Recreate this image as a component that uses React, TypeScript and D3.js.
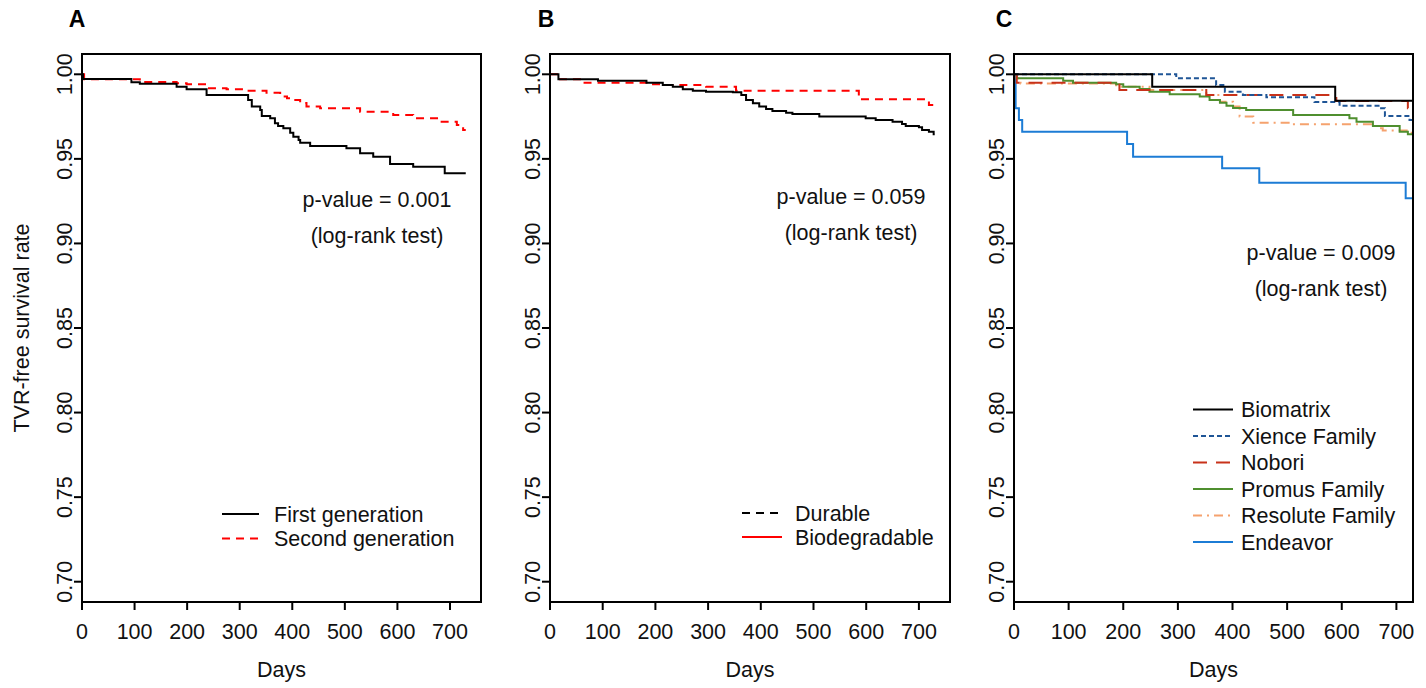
import React from "react";
import * as d3 from "d3";

// ---------- DATA ----------
const xTicks = [0, 100, 200, 300, 400, 500, 600, 700];
const yTicks = [0.7, 0.75, 0.8, 0.85, 0.9, 0.95, 1.0];

// Panel A
const firstGenTime = [0, 2, 94, 110, 180, 199, 237, 316, 323, 339, 342, 358, 367, 373, 383, 396, 402, 412, 415, 434, 503, 529, 554, 586, 630, 690, 730];
const firstGenSurv = [1.0, 0.9972, 0.9953, 0.9944, 0.9927, 0.9911, 0.9878, 0.9848, 0.9809, 0.9789, 0.9754, 0.974, 0.971, 0.9694, 0.9681, 0.9655, 0.9631, 0.9612, 0.9596, 0.9576, 0.9563, 0.9533, 0.9513, 0.947, 0.9454, 0.9415, 0.9415];
const secondGenTime = [0, 4, 110, 180, 199, 237, 275, 313, 351, 377, 390, 402, 415, 427, 453, 529, 592, 630, 681, 713, 725, 730];
const secondGenSurv = [1.0, 0.997, 0.9954, 0.9947, 0.9941, 0.9917, 0.9911, 0.9903, 0.9891, 0.9868, 0.9858, 0.9848, 0.983, 0.9809, 0.9799, 0.9779, 0.9759, 0.974, 0.972, 0.97, 0.9671, 0.9671];

// Panel B
const bBlackTime = [0, 16, 91, 183, 214, 233, 252, 271, 296, 347, 363, 372, 385, 397, 410, 422, 448, 460, 511, 599, 618, 650, 668, 675, 700, 706, 719, 728, 730];
const bBlackSurv = [1.0, 0.997, 0.9962, 0.995, 0.9937, 0.9927, 0.9911, 0.9903, 0.9897, 0.9894, 0.9878, 0.9848, 0.9829, 0.9809, 0.9795, 0.9783, 0.9773, 0.9765, 0.975, 0.974, 0.973, 0.972, 0.9706, 0.9694, 0.9687, 0.9671, 0.9661, 0.9645, 0.9645];
const bRedTime = [0, 16, 63, 183, 214, 296, 353, 586, 719, 730];
const bRedSurv = [1.0, 0.997, 0.995, 0.9941, 0.9937, 0.9927, 0.9903, 0.9852, 0.9818, 0.9818];

// Panel C
const biomatrixTime = [0, 253, 588, 730];
const biomatrixSurv = [1.0, 0.9927, 0.9844, 0.9844];
const xienceTime = [0, 297, 370, 386, 419, 462, 550, 596, 672, 679, 724, 730];
const xienceSurv = [1.0, 0.9976, 0.9937, 0.9897, 0.9878, 0.9864, 0.9836, 0.9814, 0.9799, 0.9754, 0.973, 0.973];
const noboriTime = [0, 5, 193, 352, 590, 721, 730];
const noboriSurv = [1.0, 0.995, 0.9907, 0.9878, 0.9842, 0.9799, 0.9799];
const promusTime = [0, 5, 90, 108, 187, 200, 230, 248, 285, 340, 358, 377, 389, 401, 425, 511, 614, 627, 657, 706, 721, 730];
const promusSurv = [1.0, 0.9976, 0.9962, 0.995, 0.9941, 0.9927, 0.9913, 0.9897, 0.9882, 0.9868, 0.9848, 0.9832, 0.9814, 0.9801, 0.9789, 0.9759, 0.974, 0.972, 0.9694, 0.9661, 0.9645, 0.9645];
const resoluteTime = [0, 5, 12, 187, 248, 352, 377, 401, 413, 438, 505, 663, 675, 724, 730];
const resoluteSurv = [1.0, 0.9976, 0.9946, 0.9927, 0.9907, 0.9878, 0.9838, 0.9809, 0.975, 0.9714, 0.9704, 0.9681, 0.9667, 0.9655, 0.9655];
const endeavorTime = [0, 3, 9, 15, 207, 218, 381, 449, 717, 730];
const endeavorSurv = [1.0, 0.9799, 0.973, 0.9661, 0.9588, 0.9513, 0.9444, 0.9359, 0.9267, 0.9267];

const legendA = ["First generation", "Second generation"];
const legendB = ["Durable", "Biodegradable"];
const legendC = ["Biomatrix", "Xience Family", "Nobori", "Promus Family", "Resolute Family", "Endeavor"];

// ---------- LAYOUT ----------
const FONT = "'Liberation Sans', Arial, Helvetica, sans-serif";
const FS = 21.5;
const TOP = 54;
const BOTTOM = 602;

type Series = { t: number[]; s: number[]; color: string; dash?: string };
type LegendItem = { label: string; color: string; dash?: string };

type PanelProps = {
  letter: string;
  letterX: number;
  left: number;
  right: number;
  xMax: number;
  series: Series[];
  pText: string;
  pX: number;
  pY: number;
  legend: LegendItem[];
  legX: number;
  legY: number;
  legStep: number;
  legLen: number;
  legGap: number;
  id: string;
};

const yScale = d3.scaleLinear().domain([0.688, 1.012]).range([BOTTOM, TOP]);

function Panel(p: PanelProps) {
  const x = d3.scaleLinear().domain([0, p.xMax]).range([p.left, p.right]);
  const line = d3
    .line<[number, number]>()
    .x((d) => x(d[0]))
    .y((d) => yScale(d[1]))
    .curve(d3.curveStepAfter);
  const cx = (p.left + p.right) / 2;
  return (
    <g>
      <defs>
        <clipPath id={"clip" + p.id}>
          <rect x={p.left} y={TOP} width={p.right - p.left} height={BOTTOM - TOP} />
        </clipPath>
      </defs>
      <text x={p.letterX} y={27} textAnchor="middle" fontSize={23} fontWeight="bold" fontFamily={FONT}>
        {p.letter}
      </text>
      <g clipPath={`url(#clip${p.id})`}>
        {p.series.map((s, i) => (
          <path
            key={i}
            d={line(s.t.map((t, j) => [t, s.s[j]] as [number, number])) || ""}
            fill="none"
            stroke={s.color}
            strokeWidth={2}
            strokeDasharray={s.dash}
          />
        ))}
      </g>
      <rect x={p.left} y={TOP} width={p.right - p.left} height={BOTTOM - TOP} fill="none" stroke="#000" strokeWidth={2} />
      {/* y axis */}
      {yTicks.map((v) => (
        <g key={v}>
          <line x1={p.left - 8} x2={p.left} y1={yScale(v)} y2={yScale(v)} stroke="#000" strokeWidth={2} />
          <text
            transform={`translate(${p.left - 10},${yScale(v)}) rotate(-90)`}
            textAnchor="middle"
            fontSize={FS}
            fontFamily={FONT}
            fill="#111"
          >
            {v.toFixed(2)}
          </text>
        </g>
      ))}
      {/* x axis */}
      {xTicks.map((v) => (
        <g key={v}>
          <line x1={x(v)} x2={x(v)} y1={BOTTOM} y2={BOTTOM + 8} stroke="#000" strokeWidth={2} />
          <text x={x(v)} y={639} textAnchor="middle" fontSize={FS} fontFamily={FONT} fill="#111">
            {v}
          </text>
        </g>
      ))}
      <text x={cx} y={677} textAnchor="middle" fontSize={FS} fontFamily={FONT} fill="#111">
        Days
      </text>
      {/* p-value */}
      <text x={p.pX} y={p.pY} textAnchor="middle" fontSize={FS} fontFamily={FONT} fill="#111">
        {p.pText}
      </text>
      <text x={p.pX} y={p.pY + 36} textAnchor="middle" fontSize={FS} fontFamily={FONT} fill="#111">
        (log-rank test)
      </text>
      {/* legend */}
      {p.legend.map((l, i) => {
        const yy = p.legY + i * p.legStep;
        return (
          <g key={l.label}>
            <line x1={p.legX} x2={p.legX + p.legLen} y1={yy} y2={yy} stroke={l.color} strokeWidth={2} strokeDasharray={l.dash} />
            <text x={p.legX + p.legLen + p.legGap} y={yy + 7.5} fontSize={FS} fontFamily={FONT} fill="#111">
              {l.label}
            </text>
          </g>
        );
      })}
    </g>
  );
}

const RED = "#ff0000";
const C_BIO = "#000000";
const C_XIE = "#1f5596";
const C_NOB = "#c8321a";
const C_PRO = "#4f8f2f";
const C_RES = "#f5a26e";
const C_END = "#1c7cd5";
const D_DASH = "8,6";
const D_SHORT = "5,3";
const D_LONG = "14,9";
const D_DOTDASH = "9,5,2,5";

export default function App() {
  return (
    <svg
      width={1426}
      height={688}
      style={{ position: "absolute", left: 0, top: 0, background: "#fff" }}
    >
      <rect x={0} y={0} width={1426} height={688} fill="#fff" />
      <text
        transform={`translate(29,328) rotate(-90)`}
        textAnchor="middle"
        fontSize={FS}
        fontFamily={FONT}
        fill="#111"
      >
        TVR-free survival rate
      </text>
      <Panel
        id="A"
        letter="A"
        letterX={77}
        left={82}
        right={481}
        xMax={759}
        series={[
          { t: secondGenTime, s: secondGenSurv, color: RED, dash: D_DASH },
          { t: firstGenTime, s: firstGenSurv, color: "#000" },
        ]}
        pText="p-value = 0.001"
        pX={377}
        pY={207}
        legend={[
          { label: legendA[0], color: "#000" },
          { label: legendA[1], color: RED, dash: D_DASH },
        ]}
        legX={222}
        legY={514}
        legLen={37}
        legGap={15}
        legStep={24.5}
      />
      <Panel
        id="B"
        letter="B"
        letterX={546}
        left={550}
        right={950}
        xMax={759}
        series={[
          { t: bRedTime, s: bRedSurv, color: RED, dash: D_DASH },
          { t: bBlackTime, s: bBlackSurv, color: "#000" },
        ]}
        pText="p-value = 0.059"
        pX={851}
        pY={204}
        legend={[
          { label: legendB[0], color: "#000", dash: D_DASH },
          { label: legendB[1], color: RED },
        ]}
        legX={742}
        legY={513}
        legLen={40}
        legGap={13}
        legStep={24}
      />
      <Panel
        id="C"
        letter="C"
        letterX={1004}
        left={1014}
        right={1413}
        xMax={730.4}
        series={[
          { t: endeavorTime, s: endeavorSurv, color: C_END },
          { t: resoluteTime, s: resoluteSurv, color: C_RES, dash: D_DOTDASH },
          { t: promusTime, s: promusSurv, color: C_PRO },
          { t: noboriTime, s: noboriSurv, color: C_NOB, dash: D_LONG },
          { t: xienceTime, s: xienceSurv, color: C_XIE, dash: D_SHORT },
          { t: biomatrixTime, s: biomatrixSurv, color: C_BIO },
        ]}
        pText="p-value = 0.009"
        pX={1321}
        pY={260}
        legend={[
          { label: legendC[0], color: C_BIO },
          { label: legendC[1], color: C_XIE, dash: D_SHORT },
          { label: legendC[2], color: C_NOB, dash: D_LONG },
          { label: legendC[3], color: C_PRO },
          { label: legendC[4], color: C_RES, dash: D_DOTDASH },
          { label: legendC[5], color: C_END },
        ]}
        legX={1193}
        legY={409.5}
        legLen={40}
        legGap={8}
        legStep={26.5}
      />
    </svg>
  );
}
